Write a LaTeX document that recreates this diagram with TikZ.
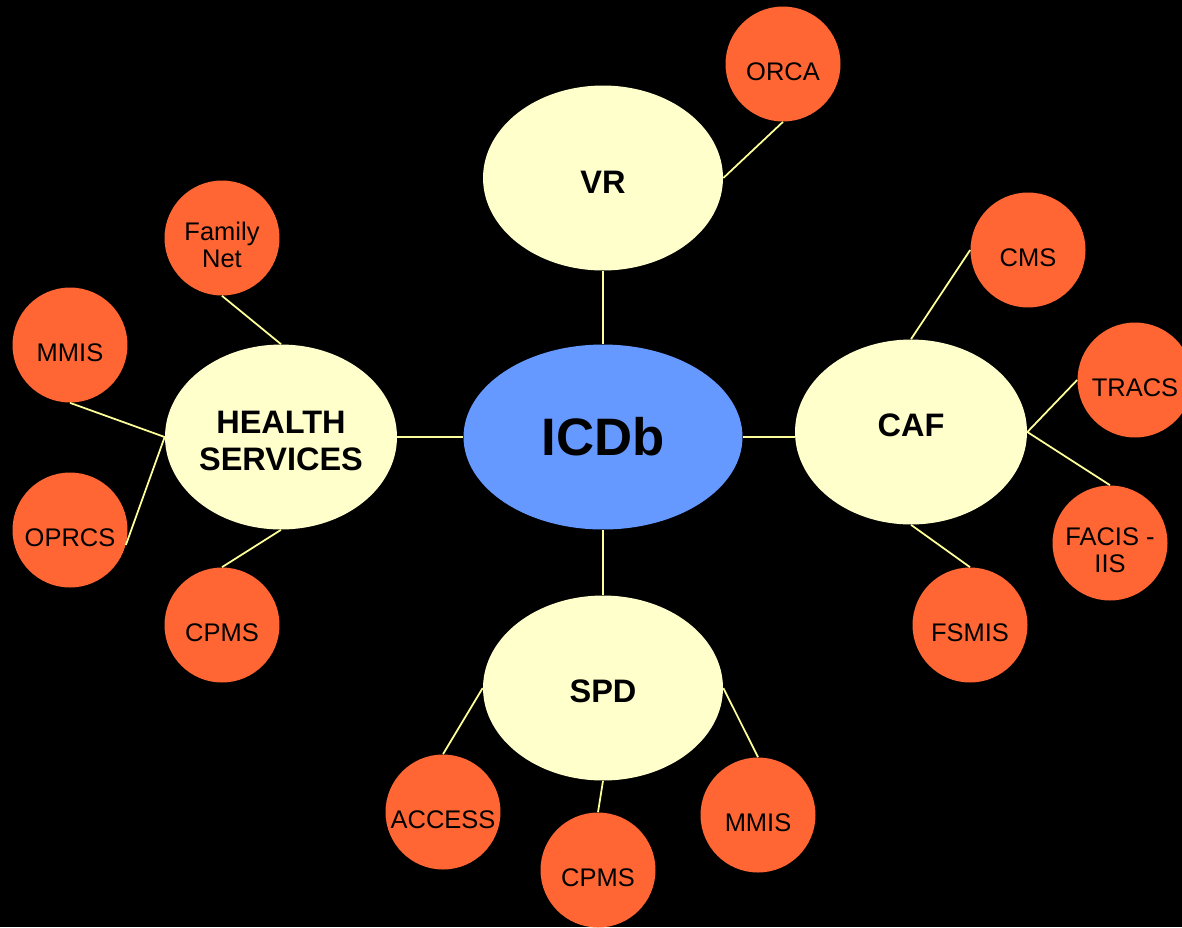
\documentclass[tikz,border=0pt]{standalone}
\usepackage{fontspec}
\setmainfont{Liberation Sans}
\usetikzlibrary{shapes.geometric}

\definecolor{hubblue}{HTML}{6699FF}
\definecolor{mainyellow}{HTML}{FFFFCC}
\definecolor{leaforange}{HTML}{FF6633}
\definecolor{linkyellow}{HTML}{FFFF99}

\begin{document}
\begin{tikzpicture}[x=0.02cm,y=-0.02cm,
    every edge/.style={draw=linkyellow,line width=1pt},
    hub node/.style={ellipse,fill=hubblue,minimum width=5.58cm,minimum height=3.7cm,
      inner sep=0pt,font=\bfseries\fontsize{30}{34}\selectfont},
    main node/.style={ellipse,fill=mainyellow,minimum width=4.8cm,minimum height=3.7cm,
      inner sep=0pt,align=center,text height=0.6cm,font=\bfseries\fontsize{18.5}{21}\selectfont},
    leaf node/.style={circle,fill=leaforange,minimum size=2.3cm,inner sep=0pt,
      align=center,text height=0.65cm,font=\fontsize{14.5}{15.5}\selectfont}]

\useasboundingbox (0,0) rectangle (1182,927);
\fill[black] (0,0) rectangle (1182,927);

\node[hub node] (1) at (603,437) {ICDb};
\node[main node] (2) at (603,178) {VR};
\node[main node,minimum width=4.64cm,text height=1.34cm] (3) at (281,437) {HEALTH\\SERVICES};
\node[main node,minimum width=4.64cm,text height=,text depth=0.28cm] (4) at (911,432) {CAF};
\node[main node] (5) at (603,688) {SPD};

\node[leaf node] (6) at (783,64) {ORCA};
\node[leaf node,text height=1.2cm] (7) at (222,238) {Family\\Net};
\node[leaf node] (8) at (70,345) {MMIS};
\node[leaf node] (9) at (70,530) {OPRCS};
\node[leaf node] (10) at (222,625) {CPMS};
\node[leaf node] (11) at (1028,250) {CMS};
\node[leaf node] (12) at (1135,380) {TRACS};
\node[leaf node,text height=1.2cm] (13) at (1110,543) {FACIS -\\IIS};
\node[leaf node] (14) at (970,625) {FSMIS};
\node[leaf node] (15) at (443,812) {ACCESS};
\node[leaf node] (16) at (598,870) {CPMS};
\node[leaf node] (17) at (758,815) {MMIS};

\path
(1.north) edge (2.south)
(1.west) edge (3.east)
(1.east) edge (1.east -| 4.west)
(1.south) edge (5.north)
(2.east) edge (6.south)
(3.north) edge (7.south)
(3.west) edge (8.south)
(3.west) edge (9.-15)
(3.south) edge (10.north)
(4.north) edge (11.west)
(4.east) edge (12.west)
(4.east) edge (13.north)
(4.south) edge (14.north)
(5.west) edge (15.north)
(5.south) edge (16.north)
(5.east) edge (17.north)
;

\end{tikzpicture}
\end{document}
